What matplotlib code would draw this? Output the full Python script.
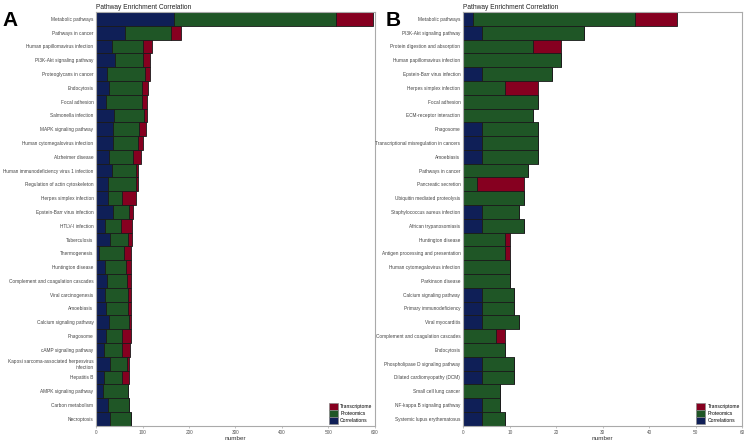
import matplotlib
matplotlib.use('Agg')
import matplotlib.pyplot as plt
import matplotlib.patches as mpatches
import numpy as np

plt.rcParams['font.family'] = ['Liberation Sans', 'DejaVu Sans']

# panel A
pathways_a = ['Metabolic pathways', 'Pathways in cancer', 'Human papillomavirus infection',
              'PI3K-Akt signaling pathway', 'Proteoglycans in cancer', 'Endocytosis',
              'Focal adhesion', 'Salmonella infection', 'MAPK signaling pathway',
              'Human cytomegalovirus infection', 'Alzheimer disease',
              'Human immunodeficiency virus 1 infection', 'Regulation of actin cytoskeleton',
              'Herpes simplex infection', 'Epstein-Barr virus infection', 'HTLV-I infection',
              'Tuberculosis', 'Thermogenesis', 'Huntington disease',
              'Complement and coagulation cascades', 'Viral carcinogenesis', 'Amoebiasis',
              'Calcium signaling pathway', 'Phagosome', 'cAMP signaling pathway',
              'Kaposi sarcoma-associated herpesvirus\ninfection', 'Hepatitis B',
              'AMPK signaling pathway', 'Carbon metabolism', 'Necroptosis']
corr_a = [167, 62, 33, 40, 22, 26, 20, 37, 36, 35, 28, 33, 25, 24, 36,
          18, 29, 5, 19, 22, 18, 20, 26, 20, 16, 30, 17, 15, 24, 30]
prot_a = [350, 99, 68, 61, 83, 72, 78, 65, 56, 55, 51, 52, 61, 30, 35,
          34, 39, 54, 44, 44, 50, 48, 44, 35, 38, 36, 39, 54, 46, 44]
trans_a = [80, 21, 18, 14, 10, 13, 12, 6, 15, 10, 18, 5, 4, 31, 8,
           25, 8, 15, 11, 8, 6, 6, 5, 19, 18, 5, 14, 0, 0, 0]

# panel B
pathways_b = ['Metabolic pathways', 'PI3K-Akt signaling pathway', 'Protein digestion and absorption',
              'Human papillomavirus infection', 'Epstein-Barr virus infection',
              'Herpes simplex infection', 'Focal adhesion', 'ECM-receptor interaction',
              'Phagosome', 'Transcriptional misregulation in cancers', 'Amoebiasis',
              'Pathways in cancer', 'Pancreatic secretion', 'Ubiquitin mediated proteolysis',
              'Staphylococcus aureus infection', 'African trypanosomiasis', 'Huntington disease',
              'Antigen processing and presentation', 'Human cytomegalovirus infection',
              'Parkinson disease', 'Calcium signaling pathway', 'Primary immunodeficiency',
              'Viral myocarditis', 'Complement and coagulation cascades', 'Endocytosis',
              'Phospholipase D signaling pathway', 'Dilated cardiomyopathy (DCM)',
              'Small cell lung cancer', 'NF-kappa B signaling pathway',
              'Systemic lupus erythematosus']
corr_b = [2, 4, 0, 0, 4, 0, 0, 0, 4, 4, 4, 0, 0, 0, 4,
          4, 0, 0, 0, 0, 4, 4, 4, 0, 0, 4, 4, 0, 4, 4]
prot_b = [35, 22, 15, 21, 15, 9, 16, 15, 12, 12, 12, 14, 3, 13, 8,
          9, 9, 9, 10, 10, 7, 7, 8, 7, 9, 7, 7, 8, 4, 5]
trans_b = [9, 0, 6, 0, 0, 7, 0, 0, 0, 0, 0, 0, 10, 0, 0,
           0, 1, 1, 0, 0, 0, 0, 0, 2, 0, 0, 0, 0, 0, 0]

c_corr = '#0f1f57'
c_prot = '#1f5626'
c_trans = '#860020'
edge = '#1a1a1a'
spine = '#aaaaaa'

fig = plt.figure(figsize=(7.45, 4.41), dpi=100)


def panel(rect, names, corr, prot, trans, xmax, step, letter, letter_x):
    ax = fig.add_axes(rect)
    y = np.arange(len(names))
    corr = np.array(corr)
    prot = np.array(prot)
    trans = np.array(trans)
    kw = dict(height=1.0, edgecolor=edge, linewidth=0.6)
    ax.barh(y, corr, color=c_corr, **kw)
    ax.barh(y, prot, left=corr, color=c_prot, **kw)
    ax.barh(y, trans, left=corr + prot, color=c_trans, **kw)
    ax.set_ylim(len(names) - 0.5, -0.5)
    ax.set_xlim(0, xmax)
    ax.set_yticks(y)
    ax.set_yticklabels(names, fontsize=3.4, color='#444444')
    ax.set_xticks(np.arange(0, xmax + 1, step))
    ax.tick_params(axis='y', length=0, pad=2.2)
    ax.tick_params(axis='x', length=1.5, width=0.5, color=spine, labelsize=3.4,
                   labelcolor='#555555', pad=1.5)
    for s in ax.spines.values():
        s.set_color(spine)
        s.set_linewidth(0.8)
    ax.set_xlabel('number', fontsize=4.6, color='#333333', labelpad=1)
    ax.set_title('Pathway Enrichment Correlation', fontsize=4.8, loc='left',
                 color='#222222', pad=2)
    handles = [mpatches.Patch(facecolor=c_trans, edgecolor='#888888', linewidth=0.5, label='Transcriptome'),
               mpatches.Patch(facecolor=c_prot, edgecolor='#888888', linewidth=0.5, label='Proteomics'),
               mpatches.Patch(facecolor=c_corr, edgecolor='#888888', linewidth=0.5, label='Correlations')]
    ax.legend(handles=handles, loc='lower right', fontsize=3.6, frameon=False,
              handlelength=1.8, handleheight=1.7, labelspacing=0.0,
              handletextpad=0.5, borderaxespad=0.2, borderpad=0.2)
    fig.text(letter_x, 0.975, letter, fontsize=15, fontweight='bold', va='top', ha='left')
    return ax


panel([0.1295, 0.0347, 0.3732, 0.9381], pathways_a, corr_a, prot_a, trans_a,
      600, 100, 'A', 0.003)
panel([0.6219, 0.0347, 0.3741, 0.9381], pathways_b, corr_b, prot_b, trans_b,
      60, 10, 'B', 0.518)

fig.savefig('out.png', dpi=100)
